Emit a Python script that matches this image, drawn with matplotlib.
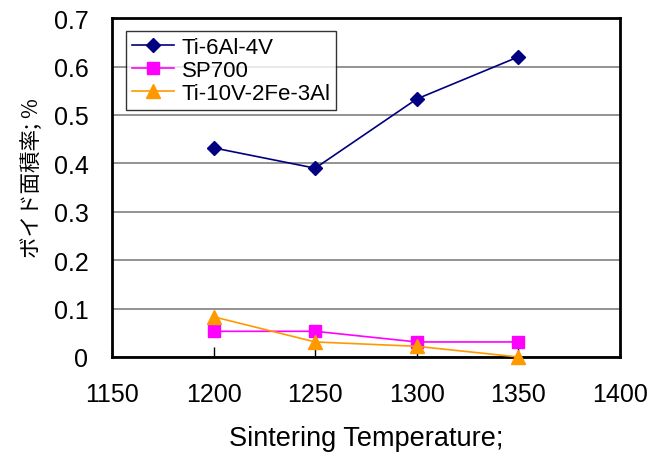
import matplotlib
matplotlib.use('Agg')
import matplotlib.pyplot as plt

# data
temps = [1200, 1250, 1300, 1350]
ti64 = [0.432, 0.39, 0.533, 0.62]
sp700 = [0.053, 0.053, 0.031, 0.031]
ti1023 = [0.083, 0.031, 0.022, 0.0]

series_names = ['Ti-6Al-4V', 'SP700', 'Ti-10V-2Fe-3Al']
xticks = [1150, 1200, 1250, 1300, 1350, 1400]
yticks = [0, 0.1, 0.2, 0.3, 0.4, 0.5, 0.6, 0.7]
ytick_labels = ['0', '0.1', '0.2', '0.3', '0.4', '0.5', '0.6', '0.7']

plt.rcParams['font.family'] = ['Liberation Sans', 'Noto Sans CJK JP', 'DejaVu Sans']

fig = plt.figure(figsize=(6.63, 4.56), dpi=100)
ax = fig.add_axes([0.169, 0.215, 0.766, 0.743])

ax.plot(temps, ti64, color='#000080', marker='D', markersize=7, lw=1.2,
        label=series_names[0], clip_on=False, zorder=3)
ax.plot(temps, sp700, color='#ff00ff', marker='s', markersize=8, lw=1.2,
        label=series_names[1], clip_on=False, zorder=3)
ax.plot(temps, ti1023, color='#ff9900', marker='^', markersize=10, lw=1.2,
        label=series_names[2], clip_on=False, zorder=4)

ax.set_xlim(1150, 1400)
ax.set_ylim(0, 0.7)
ax.set_xticks(xticks)
ax.set_yticks(yticks)
ax.set_yticklabels(ytick_labels)
ax.grid(axis='y', color='#808080', lw=1.2)
ax.set_axisbelow(True)

ax.tick_params(axis='both', direction='in', labelsize=18, length=7, width=1)
ax.tick_params(axis='x', pad=18)
ax.tick_params(axis='y', length=0, pad=17)
for s in ax.spines.values():
    s.set_linewidth(2)
    s.set_color('black')

ax.set_xlabel('Sintering Temperature;', fontsize=19.5, labelpad=14)
ax.set_ylabel('ボイド面積率; %', fontsize=15.5,
              family=['Noto Sans CJK JP', 'DejaVu Sans'])
ax.yaxis.set_label_coords(-0.136, 0.53)

leg = ax.legend(loc='upper left', bbox_to_anchor=(0.028, 0.962), fontsize=16,
                frameon=True, fancybox=False, edgecolor='black',
                borderpad=0.25, labelspacing=0.1, handlelength=1.9,
                handletextpad=0.35, borderaxespad=0)
leg.get_frame().set_linewidth(1)

fig.savefig('out.png', dpi=100)
